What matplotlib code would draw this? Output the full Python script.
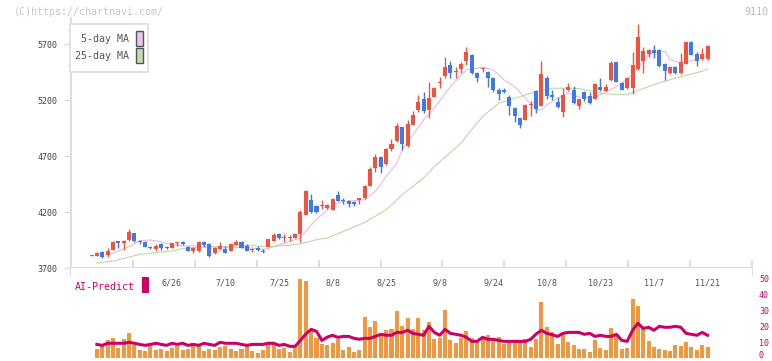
import numpy as np
import matplotlib
matplotlib.use("Agg")
import matplotlib.pyplot as plt
import matplotlib.transforms as mtransforms
from matplotlib.patches import Rectangle

# daily OHLC (day 0 .. 115)
opens = [3810, 3810, 3845, 3815, 3865, 3940, 3920, 3950, 4010, 3945,
         3935, 3890, 3870, 3915, 3890, 3880, 3920, 3935, 3890, 3855,
         3855, 3935, 3915, 3830, 3870, 3870, 3855, 3910, 3935, 3900,
         3860, 3880, 3855, 3890, 3945, 4005, 3965, 3965, 3970, 4005,
         4175, 4310, 4250, 4250, 4240, 4220, 4355, 4310, 4300, 4290,
         4305, 4325, 4435, 4595, 4690, 4630, 4765, 4835, 4960, 4790,
         4980, 5115, 5215, 5115, 5230, 5355, 5415, 5515, 5450, 5480,
         5550, 5605, 5445, 5475, 5455, 5400, 5295, 5295, 5230, 5130,
         5040, 5025, 5155, 5285, 5150, 5400, 5245, 5185, 5095, 5290,
         5295, 5150, 5275, 5240, 5215, 5315, 5285, 5385, 5540, 5355,
         5305, 5305, 5480, 5550, 5615, 5650, 5650, 5525, 5440, 5500,
         5440, 5525, 5720, 5610, 5565, 5565]
highs = [3815, 3845, 3850, 3880, 3940, 3945, 3950, 4050, 4015, 3950,
         3940, 3895, 3915, 3920, 3895, 3925, 3935, 3940, 3895, 3890,
         3940, 3945, 3920, 3885, 3935, 3895, 3920, 3950, 3940, 3915,
         3880, 3895, 3870, 3960, 4015, 4010, 4005, 3995, 4015, 4220,
         4395, 4365, 4265, 4305, 4275, 4325, 4385, 4330, 4310, 4300,
         4330, 4445, 4600, 4720, 4700, 4775, 4850, 4995, 4965, 5020,
         5105, 5245, 5270, 5365, 5315, 5405, 5590, 5550, 5495, 5540,
         5680, 5610, 5455, 5495, 5460, 5405, 5310, 5305, 5250, 5135,
         5045, 5170, 5190, 5290, 5555, 5420, 5290, 5225, 5310, 5350,
         5330, 5215, 5285, 5275, 5350, 5395, 5345, 5555, 5545, 5360,
         5405, 5630, 5880, 5675, 5660, 5695, 5655, 5530, 5505, 5510,
         5625, 5725, 5725, 5635, 5665, 5690]
lows = [3805, 3805, 3790, 3795, 3860, 3880, 3865, 3945, 3930, 3915,
        3885, 3870, 3850, 3860, 3870, 3875, 3900, 3910, 3850, 3835,
        3845, 3885, 3800, 3825, 3865, 3830, 3850, 3905, 3875, 3850,
        3840, 3850, 3830, 3885, 3940, 3960, 3935, 3945, 3965, 3935,
        4170, 4190, 4195, 4225, 4225, 4215, 4295, 4275, 4245, 4250,
        4275, 4320, 4430, 4560, 4545, 4625, 4745, 4830, 4755, 4785,
        4975, 5095, 5090, 5045, 5225, 5305, 5395, 5395, 5395, 5445,
        5515, 5435, 5365, 5455, 5320, 5275, 5200, 5265, 5070, 5005,
        4955, 5020, 5055, 5090, 5145, 5215, 5205, 5130, 5050, 5285,
        5170, 5120, 5195, 5170, 5210, 5285, 5280, 5375, 5360, 5290,
        5300, 5255, 5470, 5440, 5590, 5580, 5500, 5385, 5435, 5430,
        5430, 5520, 5600, 5510, 5560, 5560]
closes = [3812, 3830, 3795, 3855, 3935, 3920, 3945, 4020, 3945, 3935,
          3890, 3875, 3900, 3880, 3880, 3920, 3925, 3915, 3855, 3875,
          3935, 3910, 3810, 3880, 3900, 3835, 3915, 3935, 3880, 3855,
          3865, 3865, 3845, 3955, 3995, 3970, 3975, 3975, 4005, 4200,
          4385, 4200, 4200, 4255, 4260, 4320, 4300, 4295, 4275, 4275,
          4325, 4435, 4585, 4690, 4600, 4765, 4810, 4970, 4810, 4985,
          5070, 5180, 5100, 5220, 5310, 5365, 5495, 5445, 5455, 5525,
          5630, 5440, 5400, 5480, 5400, 5290, 5255, 5270, 5150, 5060,
          4980, 5160, 5160, 5125, 5430, 5240, 5230, 5140, 5245, 5315,
          5175, 5210, 5215, 5175, 5345, 5290, 5320, 5530, 5365, 5295,
          5400, 5515, 5765, 5640, 5650, 5625, 5510, 5465, 5500, 5440,
          5545, 5720, 5605, 5550, 5610, 5685]

# volume (scaled to the 0-50 axis), day 0 has no bar
volume = [0, 5.4, 7.3, 11, 12.3, 6, 11.7, 15.4, 7.9, 4.8,
          4.2, 7.3, 4.8, 5.4, 4.2, 6, 7.3, 4.8, 5.4, 9.2,
          7.3, 4.2, 5.4, 4.8, 6.7, 7.3, 5.4, 4.2, 5.4, 7.3,
          4.2, 2.9, 4.8, 9.2, 9.2, 5.4, 6, 3.5, 7.3, 49.2,
          47.9, 16.7, 12.3, 8.5, 7.9, 9.2, 11.7, 4.8, 6.7, 3.5,
          4.8, 25.4, 19.2, 22.9, 14.2, 17.3, 17.9, 29.2, 19.8, 24.8,
          17.9, 24.8, 17.3, 22.3, 11.7, 12.3, 29.8, 11, 9.2, 12.3,
          16.7, 12.3, 9.8, 11.7, 14.2, 11, 12.9, 8.5, 9.8, 11,
          9.8, 11.7, 6.7, 11.7, 34.8, 19.2, 16, 8.5, 14.8, 9.8,
          7.9, 5.4, 5.4, 3.5, 11, 6, 4.8, 18.5, 14.2, 5.4,
          6, 36.7, 32.3, 18.5, 10.4, 6.7, 5.4, 4.8, 4.2, 7.9,
          7.3, 9.8, 6.7, 4.8, 7.9, 6.7]

# AI-Predict line, days 1 .. 115
ai_predict = [8.5, 7.9, 9.2, 9.2, 9.2, 9.2, 9.8, 9.2, 8.5, 7.9,
              8.5, 9.2, 8.5, 7.9, 9.2, 8.5, 9.2, 7.9, 8.5, 7.9,
              9.2, 8.5, 7.9, 9.8, 9.2, 9.2, 9.2, 8.5, 7.9, 8.5,
              8.5, 8.5, 9.2, 9.2, 7.9, 8.5, 7.3, 7.3, 11, 15,
              17.9, 16.7, 11, 13, 14.2, 12.9, 13.5, 13.5, 12.3, 11.7,
              12.3, 12.3, 13.5, 14.8, 14.2, 14.2, 16, 16, 17.3, 15.4,
              14.8, 14.2, 19.8, 16, 14.2, 17.9, 15.4, 14.8, 14.2, 12.9,
              10.4, 10.4, 12.9, 11.7, 11.7, 11, 10.4, 10.4, 10.4, 10.4,
              10.4, 11.7, 15, 17.3, 15.4, 14.5, 13.5, 15.4, 16, 16,
              16, 14.8, 15.4, 13.5, 14.2, 13.5, 13.5, 14.8, 11, 10.4,
              17.3, 21.7, 18.5, 19.2, 17.3, 19.8, 19.2, 19.2, 19.8, 19.2,
              15.4, 14.8, 14.2, 16, 14.2]

# moving averages
ma5_day = [3, 4, 7, 9, 11, 13, 15, 17, 20, 23, 27, 30, 32, 33, 35, 37, 39,
           40, 42, 44, 45, 47, 51, 53, 55, 57, 58, 60, 62, 64, 67, 70, 73,
           75, 77, 79, 81, 83, 84, 85, 87, 89, 91, 94, 97, 100, 102, 104,
           106, 107, 108, 110, 112, 114, 115]
ma5 = [3816, 3830, 3890, 3944, 3950, 3935, 3911, 3899, 3896, 3888, 3884,
       3879, 3863, 3875, 3908, 3938, 3968, 4030, 4135, 4220, 4265, 4295,
       4310, 4384, 4518, 4637, 4756, 4890, 5024, 5129, 5322, 5471, 5495,
       5471, 5381, 5322, 5218, 5113, 5113, 5158, 5218, 5265, 5227, 5227,
       5295, 5384, 5488, 5607, 5637, 5637, 5563, 5533, 5554, 5584, 5602]
ma25_day = [1, 4, 9, 12, 15, 17, 21, 25, 30, 31, 34, 38, 40, 42, 44, 47,
            51, 55, 58, 62, 64, 69, 70, 73, 76, 80, 83, 86, 88, 91, 94,
            96, 99, 100, 102, 105, 108, 111, 114, 115]
ma25 = [3745, 3762, 3822, 3837, 3852, 3875, 3888, 3893, 3905, 3893, 3893,
        3908, 3928, 3953, 3968, 4027, 4107, 4220, 4355, 4506, 4607, 4816,
        4880, 5054, 5173, 5232, 5277, 5307, 5308, 5304, 5274, 5256, 5250,
        5250, 5286, 5340, 5384, 5423, 5459, 5480]

date_labels = ["6/26", "7/10", "7/25", "8/8", "8/25", "9/8",
               "9/24", "10/8", "10/23", "11/7", "11/21"]
date_days = [15, 25, 35, 45, 55, 65, 75, 85, 95, 105, 115]
price_ticks = [3700, 4200, 4700, 5200, 5700]
ai_ticks = [0, 10, 20, 30, 40, 50]

RED = "#ef5340"
BLUE = "#3f78e8"
ORANGE = "#f2973f"
CRIMSON = "#cc0066"
MONO = "DejaVu Sans Mono"

W, H = 772, 361
fig = plt.figure(figsize=(W / 100, H / 100), dpi=100)


def fx(x, y):
    return x / W, 1 - y / H


x0, x1 = -3.83, 123.3
ax = fig.add_axes([71 / W, 1 - 268 / H, 681 / W, 250 / H])
ax2 = fig.add_axes([71 / W, 0, 681 / W, 1 - 268 / H])

days = np.arange(len(opens))
o = np.array(opens, float)
c = np.array(closes, float)
up = c >= o
colors = np.where(up, RED, BLUE)
body_lo = np.minimum(o, c)
body_h = np.maximum(np.abs(c - o), 9)

ax.vlines(days, lows, highs, colors=colors, linewidth=1.0, zorder=2)
ax.bar(days, body_h, bottom=body_lo, width=0.75, color=colors, zorder=3)
ax.plot(ma5_day, ma5, color="#e8b8ec", linewidth=0.8, zorder=1)
ax.plot(ma25_day, ma25, color="#b4dca4", linewidth=0.8, zorder=1)

ax.set_xlim(x0, x1)
ax.set_ylim(3700, 5935)
ax.set_yticks(price_ticks)
ax.set_yticklabels([str(p) for p in price_ticks], fontfamily=MONO,
                   fontsize=6, color="#444")
ax.set_xticks(np.linspace(x0, x1, 12))
ax.set_xticklabels([])
ax.tick_params(axis="y", length=5, width=1, color="#dddddd", pad=5)
ax.tick_params(axis="x", direction="inout", length=11, width=1.5,
               color="#dddddd")
for s in ["top", "right"]:
    ax.spines[s].set_visible(False)
for s in ["left", "bottom"]:
    ax.spines[s].set_color("#dddddd")
    ax.spines[s].set_linewidth(1.5)

# volume + AI predict panel
ax2.bar(days, volume, width=0.75, color=ORANGE, zorder=1)
ax2.plot(days[1:], ai_predict, color=CRIMSON, linewidth=2.2, zorder=2)
ax2.set_xlim(x0, x1)
ax2.set_ylim(-1.875, 56.25)
ax2.set_xticks([])
ax2.yaxis.tick_right()
ax2.set_yticks(ai_ticks)
ax2.set_yticklabels([str(t) for t in ai_ticks], fontfamily=MONO,
                    fontsize=6, color=CRIMSON)
ax2.tick_params(axis="y", length=0, pad=5)
# nudge the bottom "0" up so it stays inside the image
zero_lab = ax2.get_yticklabels()[0]
zero_lab.set_transform(zero_lab.get_transform() +
                       mtransforms.ScaledTranslation(0, 2.5 / 72,
                                                     fig.dpi_scale_trans))
for s in ax2.spines.values():
    s.set_visible(False)
for d, lab in zip(date_days, date_labels):
    ax2.text(d, 46.9, lab, ha="center", va="center", fontfamily=MONO,
             fontsize=6, color="#555555")

# header texts
fig.text(*fx(14, 12), "(C)https://chartnavi.com/", fontfamily=MONO,
         fontsize=7.2, color="#c8c8c8", va="center")
fig.text(*fx(768, 12), "9110", fontfamily=MONO, fontsize=7.2,
         color="#b8b8b8", va="center", ha="right")

# legend box
fig.add_artist(Rectangle(fx(70, 72), 78 / W, 48 / H, facecolor="white",
                         edgecolor="#dddddd", linewidth=1.2,
                         transform=fig.transFigure, zorder=5))
fig.add_artist(Rectangle(fx(136, 46), 7 / W, 15 / H, facecolor="#f0c0f0",
                         edgecolor="#555555", linewidth=1,
                         transform=fig.transFigure, zorder=6))
fig.add_artist(Rectangle(fx(136, 63), 7 / W, 15 / H, facecolor="#c0e0b0",
                         edgecolor="#555555", linewidth=1,
                         transform=fig.transFigure, zorder=6))
fig.text(*fx(129, 39), "5-day MA", fontfamily=MONO, fontsize=7.2,
         color="#555555", ha="right", va="center", zorder=6)
fig.text(*fx(129, 56), "25-day MA", fontfamily=MONO, fontsize=7.2,
         color="#555555", ha="right", va="center", zorder=6)

# AI-Predict label
fig.text(*fx(75, 287), "AI-Predict", fontfamily=MONO, fontsize=7.2,
         color=CRIMSON, va="center")
fig.add_artist(Rectangle(fx(142, 293), 7 / W, 16 / H, facecolor=CRIMSON,
                         edgecolor="none", transform=fig.transFigure))

fig.savefig("out.png", dpi=100)
